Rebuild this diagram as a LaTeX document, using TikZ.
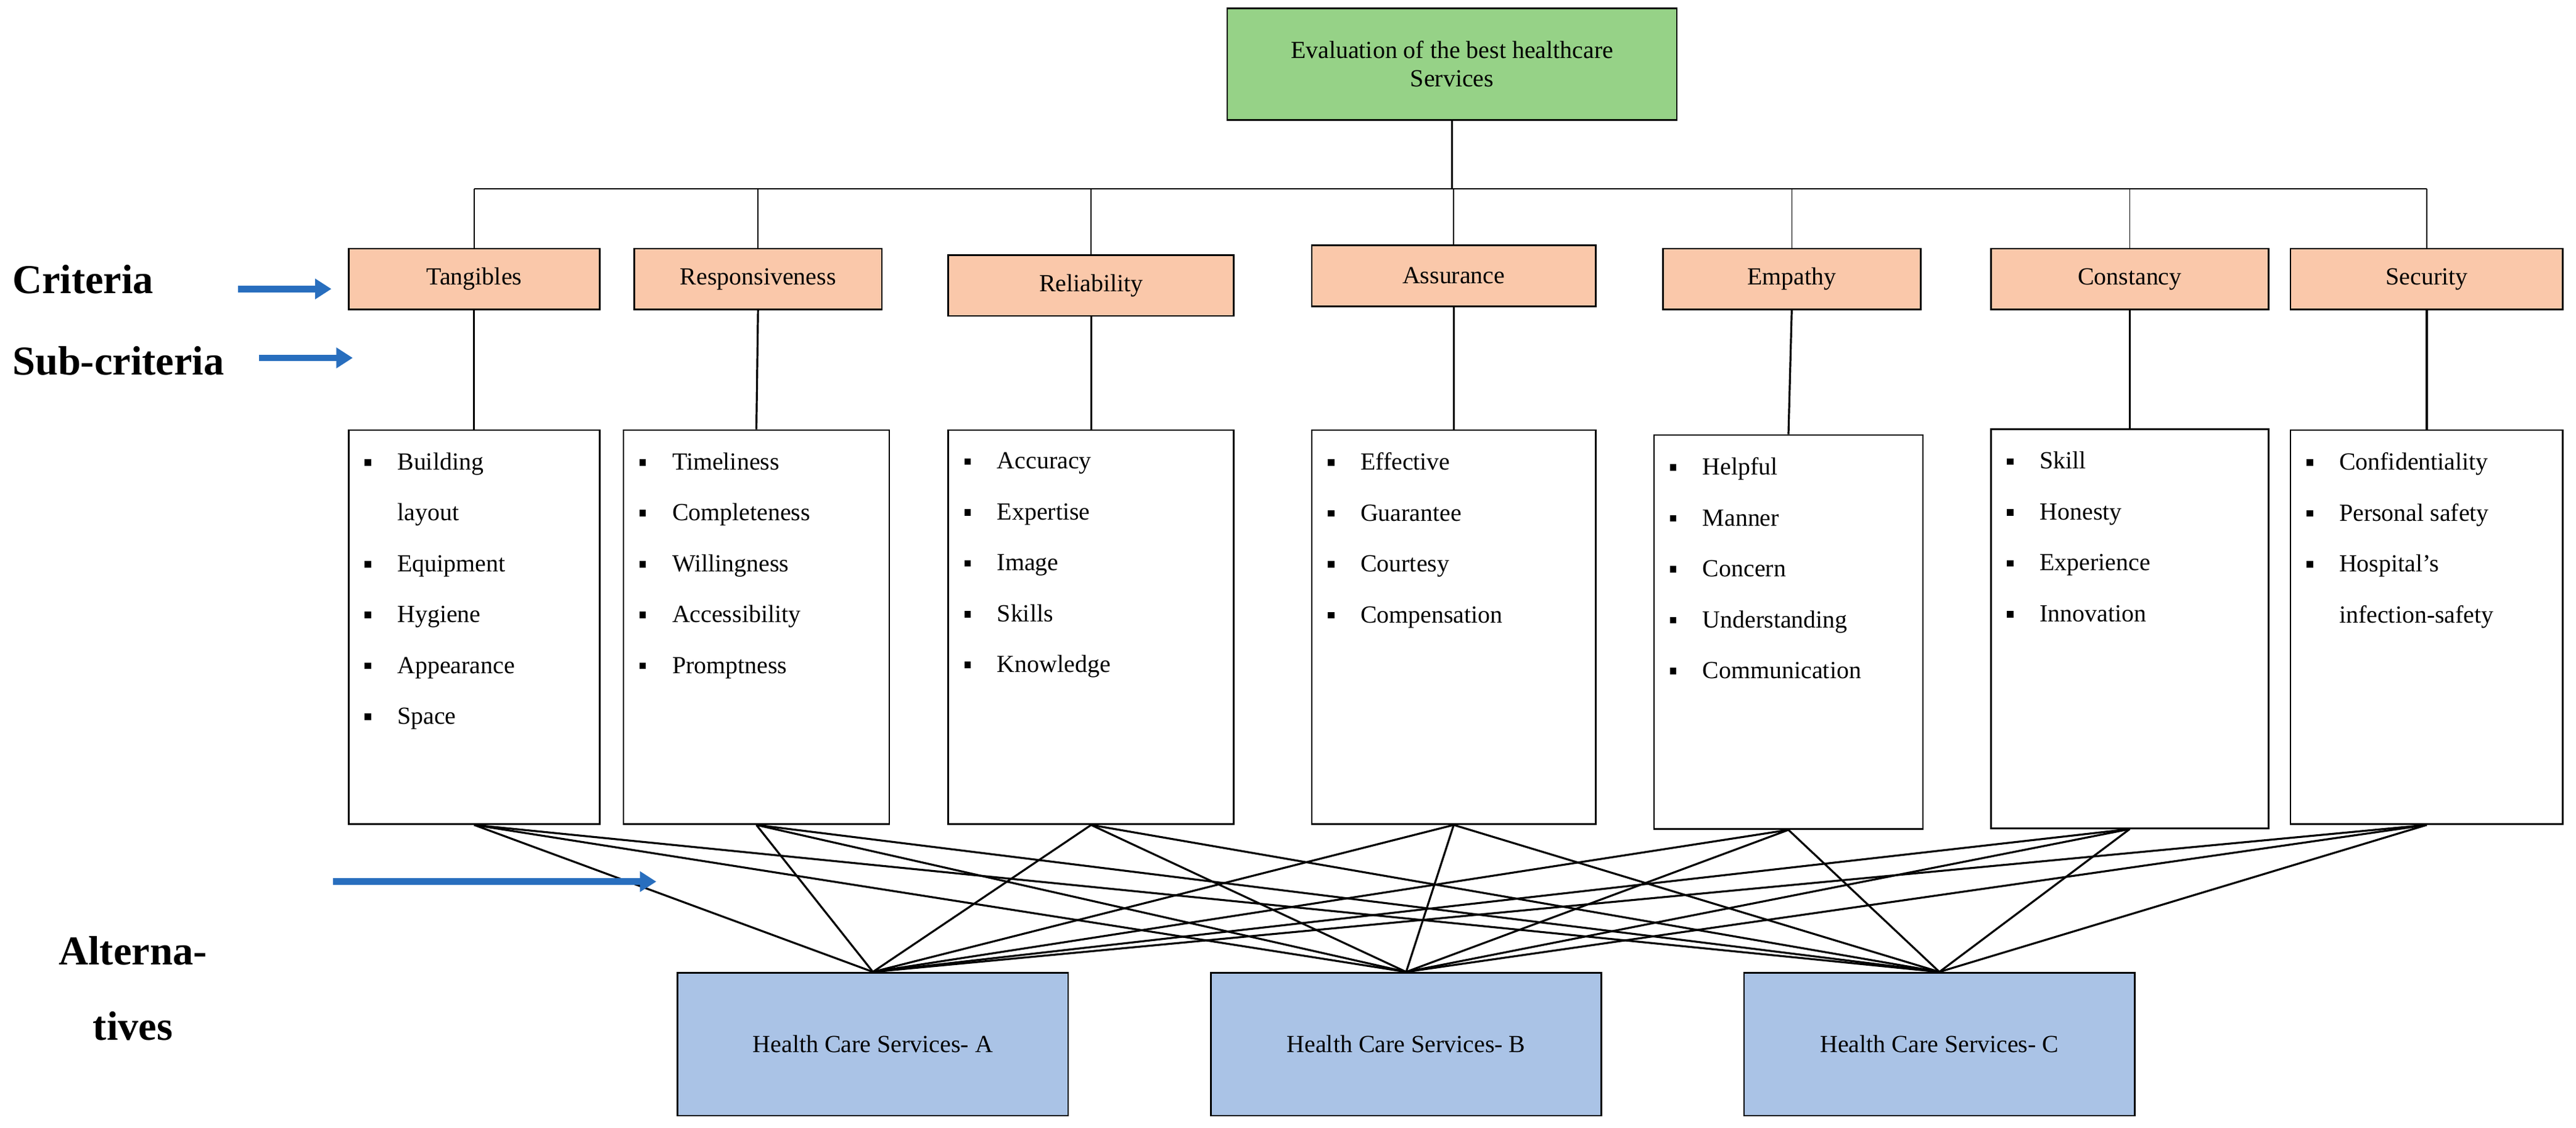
\documentclass[tikz,border=0pt]{standalone}
\usepackage{fontspec}
\setmainfont{Liberation Serif}
\usetikzlibrary{arrows.meta}
\definecolor{topg}{RGB}{150,210,135}
\definecolor{crit}{RGB}{250,200,170}
\definecolor{alt}{RGB}{170,195,230}
\definecolor{arr}{RGB}{40,110,190}
\newcommand{\bl}{\makebox[20pt][l]{\rule[2.5pt]{4pt}{4pt}}}
\newcommand{\ct}{\hspace*{20pt}}
\begin{document}
\begin{tikzpicture}[x=1pt,y=-1pt,
  box/.style={draw=black,line width=1pt,inner sep=0pt},
  txt/.style={font=\fontsize{15}{17}\selectfont,align=center},
  lst/.style={anchor=north west,inner sep=0pt,align=left,font=\fontsize{15}{31}\selectfont},
  lab/.style={font=\fontsize{25}{28}\selectfont\bfseries},
  barr/.style={draw=arr,line width=4pt,-{Triangle[length=10pt,width=12pt]}},
  thin/.style={line width=0.6pt},
  link/.style={line width=1.2pt}]
\useasboundingbox (0,0) rectangle (1570,687);
% top
\node[box,fill=topg,minimum width=274pt,minimum height=68pt,txt] (top) at (885,39) {Evaluation of the best healthcare\\Services};
\coordinate (bus) at (885,115);
\draw[line width=1.2pt] (top.south) -- (bus);
% criteria
\foreach \n/\x/\y/\w/\t in {c1/289/170/153/Tangibles,c2/462/170/151/Responsiveness,c3/665/174/174/Reliability,c4/886/168/173/Assurance,c5/1092/170/157/Empathy,c6/1298/170/169/Constancy,c7/1479/170/166/Security}{
  \node[box,fill=crit,minimum width=\w pt,minimum height=37pt,txt] (\n) at (\x,\y) {\t};
  \coordinate (\n b) at (\x,115);
  \draw[thin] (\n b) -- (\n.north);
}
\draw[thin] (c1b) -- (c7b);
% sub boxes
\node[box,minimum width=153pt,minimum height=240pt] (s1) at (289,382) {};
\node[box,minimum width=162pt,minimum height=240pt] (s2) at (461,382) {};
\node[box,minimum width=174pt,minimum height=240pt] (s3) at (665,382) {};
\node[box,minimum width=173pt,minimum height=240pt] (s4) at (886,382) {};
\node[box,minimum width=164pt,minimum height=240pt] (s5) at (1090,385) {};
\node[box,minimum width=169pt,minimum height=243pt] (s6) at (1298,383) {};
\node[box,minimum width=166pt,minimum height=240pt] (s7) at (1479,382) {};
\foreach \i in {1,...,7}{\draw[link] (c\i.south) -- (s\i.north);}
\node[lst] (l1) at ([xshift=10pt,yshift=-14pt]s1.north west) {\bl Building\\\ct layout\\\bl Equipment\\\bl Hygiene\\\bl Appearance\\\bl Space};
\node[lst] (l2) at ([xshift=10pt,yshift=-14pt]s2.north west) {\bl Timeliness\\\bl Completeness\\\bl Willingness\\\bl Accessibility\\\bl Promptness};
\node[lst] (l3) at ([xshift=10pt,yshift=-14pt]s3.north west) {\bl Accuracy\\\bl Expertise\\\bl Image\\\bl Skills\\\bl Knowledge};
\node[lst] (l4) at ([xshift=10pt,yshift=-14pt]s4.north west) {\bl Effective\\\bl Guarantee\\\bl Courtesy\\\bl Compensation};
\node[lst] (l5) at ([xshift=10pt,yshift=-14pt]s5.north west) {\bl Helpful\\\bl Manner\\\bl Concern\\\bl Understanding\\\bl Communication};
\node[lst] (l6) at ([xshift=10pt,yshift=-14pt]s6.north west) {\bl Skill\\\bl Honesty\\\bl Experience\\\bl Innovation};
\node[lst] (l7) at ([xshift=10pt,yshift=-14pt]s7.north west) {\bl Confidentiality\\\bl Personal safety\\\bl Hospital's\\\ct infection-safety};
% alternatives
\node[box,fill=alt,minimum width=238pt,minimum height=87pt,txt] (a1) at (532,636) {Health Care Services- A};
\node[box,fill=alt,minimum width=238pt,minimum height=87pt,txt] (a2) at (857,636) {Health Care Services- B};
\node[box,fill=alt,minimum width=238pt,minimum height=87pt,txt] (a3) at (1182,636) {Health Care Services- C};
\foreach \i in {1,...,7}{\foreach \j in {1,2,3}{\draw[link] (s\i.south) -- (a\j.north);}}
% left labels
\node[lab,anchor=west] (lc) at (4,170) {Criteria};
\node[lab,anchor=west] (ls) at (4,220) {Sub-criteria};
\node[lab,align=center] (la) at (81,602) {Alterna-\\[18pt]tives};
\coordinate (p1) at (145,176); \coordinate (q1) at (202,176);
\coordinate (p2) at (158,218); \coordinate (q2) at (215,218);
\coordinate (p3) at (203,537); \coordinate (q3) at (400,537);
\draw[barr] (p1) -- (q1);
\draw[barr] (p2) -- (q2);
\draw[barr] (p3) -- (q3);
\end{tikzpicture}
\end{document}
